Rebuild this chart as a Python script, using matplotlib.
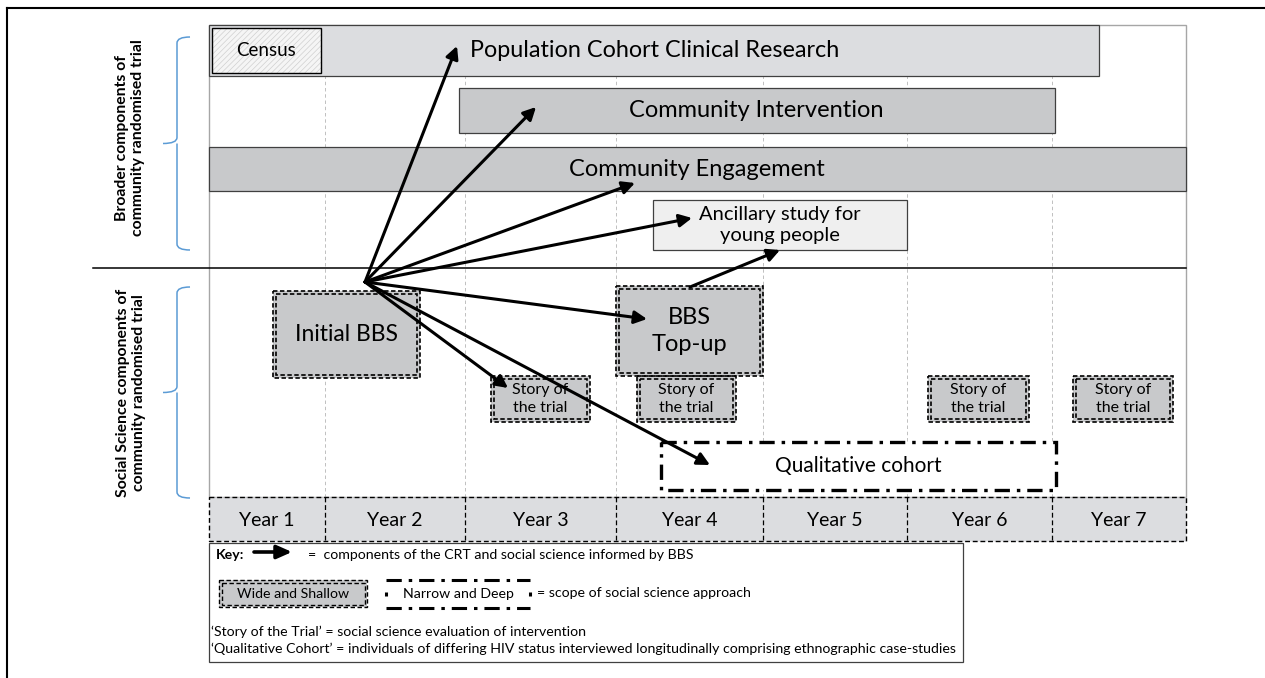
import matplotlib
matplotlib.use("Agg")
import matplotlib.pyplot as plt
from matplotlib.patches import Rectangle, FancyArrowPatch, PathPatch
from matplotlib.path import Path

plt.rcParams["lines.scale_dashes"] = False
plt.rcParams["hatch.linewidth"] = 0.5
FONT = ["Lato", "DejaVu Sans"]

# ---- data ---------------------------------------------------------------
years = ["Year 1", "Year 2", "Year 3", "Year 4", "Year 5", "Year 6", "Year 7"]
year_edges = [209, 325, 465, 616, 763, 907, 1052, 1186]

# broader CRT components: label, (x0, x1), (y0, y1), fill
broad_labels = ["Population Cohort Clinical Research", "Community Intervention",
                "Community Engagement", "Ancillary study for\nyoung people"]
broad_x = [(209, 1099), (459, 1055), (209, 1186), (653, 907)]
broad_y = [(25, 76), (88, 133), (147, 191), (200, 250)]
broad_fill = ["#dcdde0", "#c8c9cb", "#c8c9cb", "#efefef"]
broad_text_x = [655, 756, 697, 780]
broad_size = [16.8, 17, 17, 14.5]

# social science "wide and shallow" boxes
wide_labels = ["Initial BBS", "BBS\nTop-up", "Story of\nthe trial", "Story of\nthe trial",
               "Story of\nthe trial", "Story of\nthe trial"]
wide_x = [(273, 420), (616, 763), (491, 590), (637, 736), (928, 1029), (1073, 1173)]
wide_y = [(291, 378), (286, 376), (376, 422), (376, 422), (376, 422), (376, 422)]
wide_size = [16.5, 17, 11.5, 11.5, 11.5, 11.5]

qual_label = "Qualitative cohort"
qual_x, qual_y = (661, 1056), (442, 490)

# BBS-informed arrows (from Initial BBS) and their targets
arrow_origin = (365, 282)
arrow_targets = [(457, 46), (536, 107), (635, 183), (692, 218),
                 (647, 319), (508, 388), (710, 465)]
topup_arrow = [(690, 287), (780, 250)]

key_lines = ["\u2018Story of the Trial\u2019 = social science evaluation of intervention",
             "\u2018Qualitative Cohort\u2019 = individuals of differing HIV status interviewed "
             "longitudinally comprising ethnographic case-studies"]

# ---- figure -------------------------------------------------------------
fig = plt.figure(figsize=(12.65, 6.78), dpi=100)
ax = fig.add_axes([0, 0, 1, 1])
ax.set_xlim(0, 1265)
ax.set_ylim(678, 0)
ax.axis("off")


def rect(x, y, **kw):
    return ax.add_patch(Rectangle((x[0], y[0]), x[1] - x[0], y[1] - y[0], **kw))


def wide_box(x, y, fill="#c8c9cb", gap=3.2, lw=1.2):
    rect(x, y, fc=fill, ec="none", zorder=3)
    for off in (0, gap):
        rect((x[0] + off, x[1] - off), (y[0] + off, y[1] - off), fill=False,
             ec="black", lw=lw, ls=(0, (3.2, 1.8)), zorder=4)


DASHDOT = (0, (11, 5, 2.5, 5))


def narrow_box(x, y, lw=2.4, fill="white", z=3, dot_sides=False):
    rect(x, y, fc=fill, ec="none", zorder=z)
    if not dot_sides:
        rect(x, y, fill=False, ec="black", lw=lw, ls=DASHDOT, zorder=z + 1)
        return
    for yy in y:
        ax.plot(x, [yy, yy], color="black", lw=lw, ls=DASHDOT, zorder=z + 1,
                solid_capstyle="butt", dash_capstyle="butt")
    ym = (y[0] + y[1]) / 2
    for xx in x:
        ax.plot([xx, xx], [ym - 2, ym + 2], color="black", lw=lw, zorder=z + 1,
                solid_capstyle="butt")


def arrow(p0, p1, lw=2.2, hl=7.5, hw=3.8):
    ax.add_patch(FancyArrowPatch(p0, p1, arrowstyle=f"-|>,head_length={hl},head_width={hw}",
                                 mutation_scale=1, lw=lw, color="black",
                                 shrinkA=0, shrinkB=0, zorder=8))


def brace(y0, y1, x_end=190, x_spine=177, x_tip=163, r=6):
    ym = (y0 + y1) / 2
    verts = [(x_end, y0), (x_spine, y0), (x_spine, y0 + r),
             (x_spine, ym - r), (x_spine, ym), (x_tip, ym),
             (x_spine, ym), (x_spine, ym + r),
             (x_spine, y1 - r), (x_spine, y1), (x_end, y1)]
    codes = [Path.MOVETO, Path.CURVE3, Path.CURVE3,
             Path.LINETO, Path.CURVE3, Path.CURVE3,
             Path.MOVETO, Path.CURVE3,
             Path.LINETO, Path.CURVE3, Path.CURVE3]
    ax.add_patch(PathPatch(Path(verts, codes), fill=False, ec="#5b9bd5", lw=1.1))


# outer frame
ax.plot([7, 1265], [8, 8], color="black", lw=1.5)
ax.plot([7, 7], [8, 678], color="black", lw=1.5)

# panel and year grid
rect((209, 1186), (25, 497), fill=False, ec="#a6a6a6", lw=1.0, zorder=1)
for xe in year_edges[1:-1]:
    ax.plot([xe, xe], [25, 497], color="#c0c0c0", lw=0.7, ls=(0, (2.5, 2)), zorder=1)

# broader components
for lab, bx, by, fc, tx, fs in zip(broad_labels, broad_x, broad_y, broad_fill,
                                   broad_text_x, broad_size):
    rect(bx, by, fc=fc, ec="#404040", lw=0.9, zorder=2)
    ax.text(tx, (by[0] + by[1]) / 2, lab, ha="center", va="center", fontsize=fs,
            family=FONT, linespacing=1.3, zorder=6)

# census
rect((212, 321), (28, 73), fc="#f5f5f5", ec="#d0d0d0", lw=0, hatch="//////", zorder=3)
rect((212, 321), (28, 73), fill=False, ec="black", lw=1.0, zorder=4)
ax.text(266, 51, "Census", ha="center", va="center", fontsize=13.5, family=FONT, zorder=6)

# divider line
ax.plot([93, 1186], [268, 268], color="black", lw=1.1, zorder=2)

# social science boxes
for lab, bx, by, fs in zip(wide_labels, wide_x, wide_y, wide_size):
    wide_box(bx, by)
    ax.text((bx[0] + bx[1]) / 2, (by[0] + by[1]) / 2, lab, ha="center", va="center",
            fontsize=fs, family=FONT, linespacing=1.35, zorder=6)

narrow_box(qual_x, qual_y)
ax.text((qual_x[0] + qual_x[1]) / 2, (qual_y[0] + qual_y[1]) / 2, qual_label,
        ha="center", va="center", fontsize=15, family=FONT, zorder=6)

# arrows
for tgt in arrow_targets:
    arrow(arrow_origin, tgt)
arrow(*topup_arrow)

# year row
rect((year_edges[0], year_edges[-1]), (497, 541), fc="#dcdde0", ec="black", lw=1.0,
     ls=(0, (3.5, 2)), zorder=3)
for xe in year_edges[1:-1]:
    ax.plot([xe, xe], [497, 541], color="black", lw=0.9, ls=(0, (3.5, 2)), zorder=4)
for i, lab in enumerate(years):
    ax.text((year_edges[i] + year_edges[i + 1]) / 2, 520, lab, ha="center", va="center",
            fontsize=14, family=FONT, zorder=6)

# braces and side labels
brace(37, 250)
brace(287, 498)
ax.text(130, 138, "Broader components of\ncommunity randomised trial", rotation=90,
        ha="center", va="center", fontsize=11.3, fontweight="bold", family=FONT,
        linespacing=1.15)
ax.text(131, 393, "Social Science components of\ncommunity randomised trial", rotation=90,
        ha="center", va="center", fontsize=11.3, fontweight="bold", family=FONT,
        linespacing=1.15)

# key
KFS = 10.2
rect((209, 963), (543, 662), fc="white", ec="#404040", lw=0.9, zorder=2)
ax.text(216, 555, "Key:", ha="left", va="center", fontsize=KFS, fontweight="bold",
        family=FONT, zorder=6)
arrow((254, 552), (292, 552), lw=2.6, hl=9, hw=4)
ax.text(308, 555, "=  components of the CRT and social science informed by BBS",
        ha="left", va="center", fontsize=KFS, family=FONT, zorder=6)
wide_box((219, 367), (580, 607), gap=2.5, lw=1.0)
ax.text(293, 594, "Wide and Shallow", ha="center", va="center", fontsize=KFS,
        family=FONT, zorder=6)
narrow_box((386, 530), (580, 608), lw=2.2, z=3, dot_sides=True)
ax.text(458, 594, "Narrow and Deep", ha="center", va="center", fontsize=KFS,
        family=FONT, zorder=6)
ax.text(537, 593, "= scope of social science approach", ha="left", va="center",
        fontsize=KFS, family=FONT, zorder=6)
for j, line in enumerate(key_lines):
    ax.text(211, 632 + j * 17, line, ha="left", va="center", fontsize=KFS,
            family=FONT, zorder=6)

fig.savefig("out.png", dpi=100)
